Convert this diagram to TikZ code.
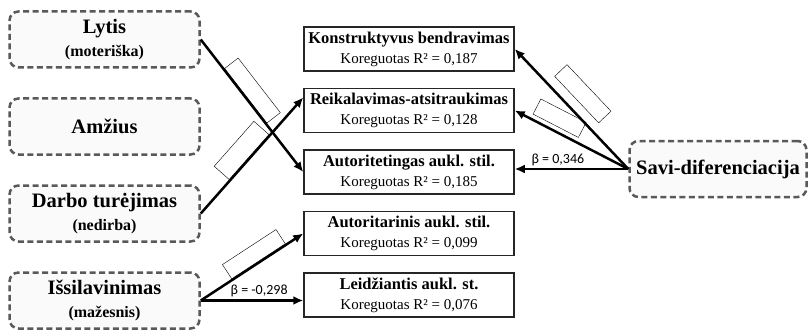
\documentclass[tikz,border=0pt]{standalone}
\usepackage{fontspec}
\setmainfont{Liberation Serif}
\newfontfamily\betafont{Carlito}
\usetikzlibrary{positioning,arrows.meta}

\newcommand{\stiltext}[2]{{\bfseries\fontsize{16.5}{20}\selectfont #1}\\#2}
\newcommand{\vartext}[2]{#1\\{\fontsize{16}{22}\selectfont #2}}

\begin{document}
\begin{tikzpicture}[x=1pt,y=-1pt,
    varnode/.style={rectangle, rounded corners=9pt, draw=black!65, fill=black!2, line width=2.5pt, dash pattern=on 6pt off 3.5pt, minimum width=190pt, minimum height=56pt, align=center, font=\bfseries\fontsize{20.5}{23}\selectfont},
    stilnode/.style={rectangle, draw=black!85, line width=1.5pt, minimum width=210pt, minimum height=44pt, align=center, inner sep=0pt, font=\fontsize{15}{20}\selectfont},
    emptybox/.style={rectangle, draw, thin, sloped, inner sep=0pt, minimum height=17pt},
    effect/.style={line width=2.5pt, -{Latex[length=10pt,width=9pt]}},
    betalabel/.style={font=\betafont\fontsize{14}{16}\selectfont, inner sep=2pt}]

    \useasboundingbox (0,0) rectangle (810,334);

    % background variables
    \node[varnode] (lytis) at (104.5,39.5) {\vartext{Lytis}{(moteriška)}};
    \node[varnode] (amzius) [below=28.5pt of lytis] {Amžius};
    \node[varnode] (darbo) [below=28.5pt of amzius] {\vartext{Darbo turėjimas}{(nedirba)}};
    \node[varnode] (issil) [below=28.5pt of darbo] {\vartext{Išsilavinimas}{(mažesnis)}};

    % parenting styles
    \node[stilnode] (konstr) at (409,49) {\stiltext{Konstruktyvus bendravimas}{Koreguotas R² = 0,187}};
    \node[stilnode] (reik) [below=16pt of konstr] {\stiltext{Reikalavimas-atsitraukimas}{Koreguotas R² = 0,128}};
    \node[stilnode] (autet) [below=16pt of reik] {\stiltext{Autoritetingas aukl. stil.}{Koreguotas R² = 0,185}};
    \node[stilnode] (autor) [below=16pt of autet] {\stiltext{Autoritarinis aukl. stil.}{Koreguotas R² = 0,099}};
    \node[stilnode] (leid) [below=16pt of autor] {\stiltext{Leidžiantis aukl. st.}{Koreguotas R² = 0,076}};

    \node[varnode, minimum width=177pt] (savi) at (718,169) {Savi-diferenciacija};

    % effects
    \draw[effect] (lytis.east) -- node[emptybox, above=1pt, pos=0.43, minimum width=69pt] {} (autet.west);
    \draw[effect] (darbo.east) -- node[emptybox, above=1pt, pos=0.48, minimum width=60pt, minimum height=20pt] {} ([yshift=13pt]reik.west);
    \draw[effect] (issil.east) -- node[emptybox, above=1pt, pos=0.57, minimum width=64pt] {} (autor.west);
    \draw[effect] (issil.east) -- node[betalabel, above, pos=0.57] {β = -0,298} (issil.east -| leid.west);
    \draw[effect] (savi.west) -- node[emptybox, above=10pt, pos=0.52, minimum width=64pt] {} (konstr.east);
    \draw[effect] (savi.west) -- node[emptybox, above=5pt, pos=0.66, minimum width=51pt] {} (reik.east);
    \draw[effect] (savi.west) -- node[betalabel, above, pos=0.62] {β = 0,346} (savi.west -| autet.east);

\end{tikzpicture}
\end{document}
